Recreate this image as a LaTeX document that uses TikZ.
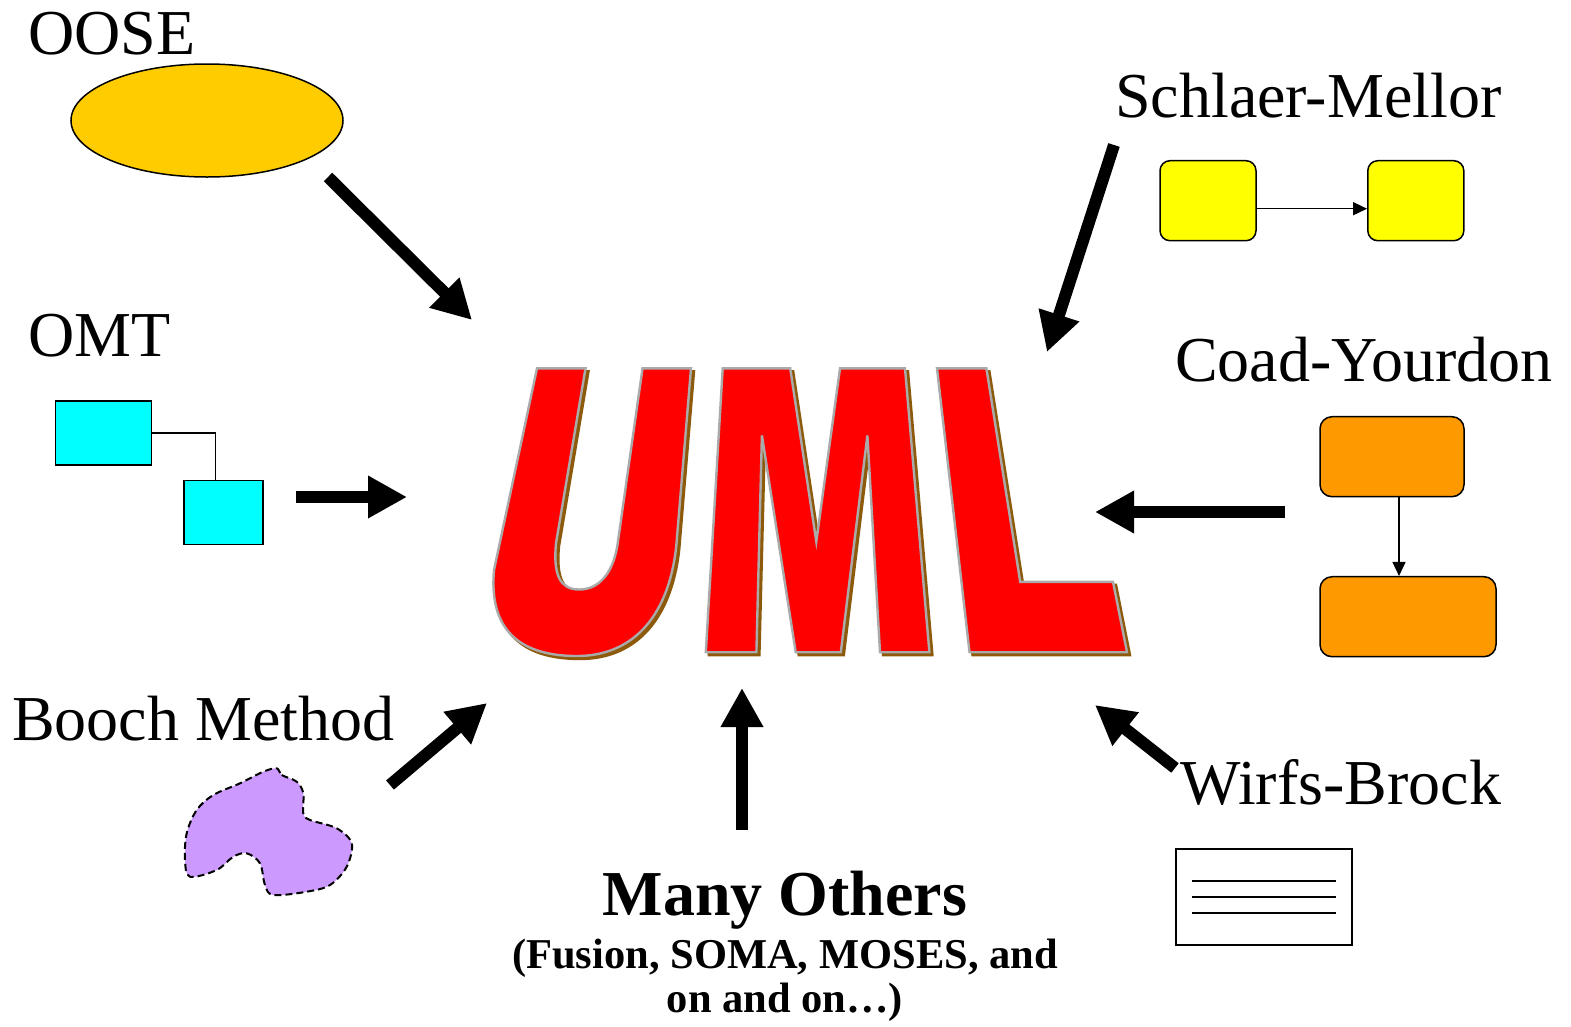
\documentclass[tikz,border=0pt]{standalone}
\usepackage{fontspec}
\setmainfont{Liberation Serif}
\usetikzlibrary{arrows.meta,shapes.geometric}
\definecolor{ooseyellow}{RGB}{255,204,0}
\definecolor{omtcyan}{RGB}{0,255,255}
\definecolor{smyellow}{RGB}{255,255,0}
\definecolor{cyorange}{RGB}{255,153,0}
\definecolor{boochlilac}{RGB}{204,153,255}
\definecolor{umlred}{RGB}{255,0,0}
\definecolor{umledge}{RGB}{170,170,170}
\definecolor{umlshadow}{RGB}{140,90,10}
\tikzset{
  lbl/.style={inner sep=0pt, anchor=base west, font=\fontsize{64bp}{70bp}\selectfont},
  shapeline/.style={draw=black, line width=1.5bp},
  thin connector/.style={draw=black, line width=1.5bp},
  small tip/.style={-{Triangle[length=14bp,width=13bp]}},
  bigarrow/.style={draw=black, line width=12bp, -{Triangle[length=39bp,width=40bp]}},
  letter/.style={fill=umlred, draw=umledge, line width=2.4bp, line join=miter},
  lettershadow/.style={fill=umlshadow, draw=umlshadow, line width=2.4bp}
}
\begin{document}
\begin{tikzpicture}[x=1bp, y=-1bp]
\useasboundingbox (0,0) rectangle (1571,1026);

% ---- the UML letters, with a brown drop shadow ----
\def\Uletter{(537,368.4) -- (585.5,368.4) -- (556,543.3)
  .. controls (553,575) and (560,589.5) .. (579.2,589.5)
  .. controls (598,589.5) and (612,575) .. (617.2,546.7)
  -- (642.5,368.4) -- (691,368.4) -- (676.2,546.7)
  .. controls (668,620) and (630,656) .. (577,656)
  .. controls (505,656) and (490,615) .. (494,570) -- cycle}
\def\Mletter{(705.8,652.2) -- (722.7,368.4) -- (790.2,368.4) -- (816.3,541.6)
  -- (840,368.4) -- (905,368.4) -- (929.4,652.2) -- (880,652.2) -- (867.4,435.4)
  -- (840.8,652.2) -- (795.7,652.2) -- (761.9,435.4) -- (756.4,652.2) -- cycle}
\def\Lletter{(937,368.4) -- (986.4,368.4) -- (1020.2,581.8) -- (1113,581.8)
  -- (1127,652.2) -- (969.5,652.2) -- cycle}
\begin{scope}[shift={(3,3)}]
  \path[lettershadow] \Uletter;
  \path[lettershadow] \Mletter;
  \path[lettershadow] \Lletter;
\end{scope}
\path[letter] \Uletter;
\path[letter] \Mletter;
\path[letter] \Lletter;
\coordinate (uml) at (810,510);

% ---- OOSE ----
\node[lbl] (ooselbl) at (28,54) {OOSE};
\node[ellipse, shapeline, fill=ooseyellow, minimum width=272bp, minimum height=113bp, inner sep=0pt] (ooseshape) at (207,120.5) {};

% ---- OMT ----
\node[lbl] (omtlbl) at (28,356) {OMT};
\node[shapeline, fill=omtcyan, minimum width=96bp, minimum height=64bp, inner sep=0pt] (omta) at (103.7,432.8) {};
\node[shapeline, fill=omtcyan, minimum width=79bp, minimum height=64bp, inner sep=0pt] (omtb) at (223.7,512.7) {};
\draw[thin connector] (omta.east) -| ([xshift=-8bp]omtb.north);

% ---- Booch Method ----
\node[lbl] (boochlbl) at (12,740) {Booch Method};
\draw[fill=boochlilac, draw=black, line width=2bp, dash pattern=on 7bp off 4bp]
  plot[smooth cycle, tension=0.55] coordinates {
  (276.7,768.3) (281.7,775) (296.7,781.7) (303.3,793.3) (303.3,813.3) (310,820)
  (336.7,828.3) (351.7,843.3) (346.7,866.7) (330,885) (306.7,891.7) (273.3,895)
  (265,885) (260,863.3) (246.7,853.3) (233.3,856.7) (216.7,870) (190,876.7)
  (185,860) (186.7,833.3) (196.7,810) (213.3,795) (240,783.3) (263.3,771.7)};

% ---- Schlaer-Mellor ----
\node[lbl] (smlbl) at (1115,117) {Schlaer-Mellor};
\node[shapeline, fill=smyellow, rounded corners=10bp, minimum width=96bp, minimum height=80bp, inner sep=0pt] (sma) at (1208,200.7) {};
\node[shapeline, fill=smyellow, rounded corners=10bp, minimum width=96bp, minimum height=80bp, inner sep=0pt] (smb) at (1415.8,200.7) {};
\draw[thin connector, small tip] ([yshift=-8bp]sma.east) -- ([yshift=-8bp]smb.west);

% ---- Coad-Yourdon ----
\node[lbl] (cylbl) at (1175,381) {Coad-Yourdon};
\node[shapeline, fill=cyorange, rounded corners=12bp, minimum width=144bp, minimum height=80bp, inner sep=0pt] (cya) at (1392,456.7) {};
\node[shapeline, fill=cyorange, rounded corners=12bp, minimum width=176bp, minimum height=80bp, inner sep=0pt] (cyb) at (1408,616.7) {};
\draw[thin connector, small tip] ([xshift=7bp]cya.south) -- ([xshift=7bp]cya.south |- cyb.north);

% ---- Wirfs-Brock ----
\node[lbl] (wblbl) at (1180,804) {Wirfs-Brock};
\node[draw=black, line width=2bp, minimum width=176bp, minimum height=96bp, inner sep=0pt] (card) at (1263.7,897) {};
\foreach \yy in {880.7,896.7,912.7}
  \draw[line width=2bp] (1192,\yy) -- (1336,\yy);

% ---- Many Others ----
\node[inner sep=0pt, anchor=base, font=\bfseries\fontsize{64bp}{70bp}\selectfont] (manylbl) at (785,915) {Many Others};
\node[inner sep=0pt, anchor=base, font=\bfseries\fontsize{42.5bp}{47bp}\selectfont] (manysub1) at (785,968) {(Fusion, SOMA, MOSES, and};
\node[inner sep=0pt, anchor=base, font=\bfseries\fontsize{42.5bp}{47bp}\selectfont] (manysub2) at (785,1012) {on and on…)};

% ---- the big arrows into UML ----
\coordinate (a1s) at (328,177);   \coordinate (a1e) at (472,320);
\coordinate (a2s) at (296,497);   \coordinate (a2e) at (407,497);
\coordinate (a3s) at (390,785);   \coordinate (a3e) at (487,703);
\coordinate (a4s) at (742,830);   \coordinate (a4e) at (742,688);
\coordinate (a5s) at (1175,768);  \coordinate (a5e) at (1095,705);
\coordinate (a6s) at (1285,512);  \coordinate (a6e) at (1095,512);
\coordinate (a7s) at (1114,145);  \coordinate (a7e) at (1047,352);
\foreach \k in {1,...,7}
  \draw[bigarrow] (a\k s) -- (a\k e);
\end{tikzpicture}
\end{document}
